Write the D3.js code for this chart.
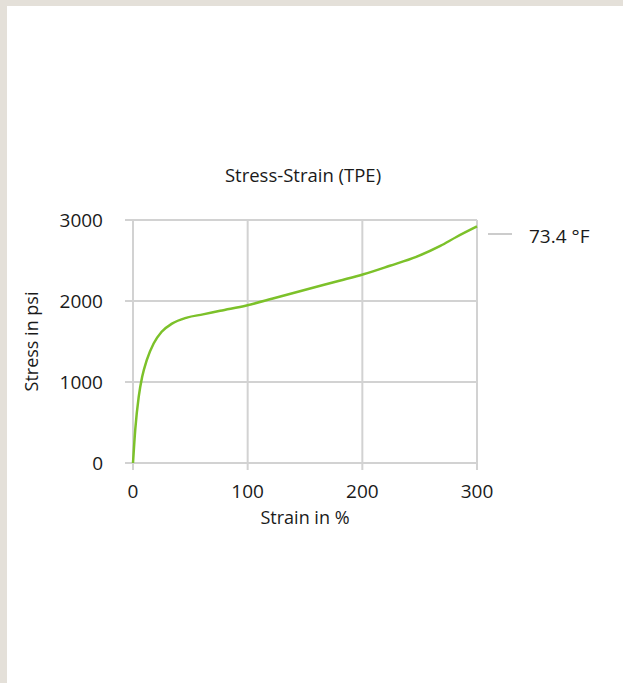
<!DOCTYPE html>
<html>
<head>
<meta charset="utf-8">
<script src="https://cdn.jsdelivr.net/npm/d3@7"></script>
<style>
  html, body { margin: 0; padding: 0; background: #e4e0d9; }
  svg { display: block; }
  text { font-family: "Open Sans", "Noto Sans", sans-serif; fill: #1a1a1a; }
</style>
</head>
<body>
<svg id="chart" width="623" height="683"></svg>
<script>
// strain in %, stress in psi
const strain = [0, 2, 5, 8, 12, 18, 25, 34, 47, 61, 76, 99, 122, 152, 180, 201, 224, 247, 268, 282, 300];
const stress = [0, 420, 820, 1065, 1270, 1475, 1620, 1720, 1795, 1835, 1880, 1945, 2030, 2145, 2250, 2330, 2435, 2545, 2680, 2790, 2920];

const xTicks = [0, 100, 200, 300];
const yTicks = [0, 1000, 2000, 3000];
const seriesName = "73.4 °F";
const title = "Stress-Strain (TPE)";

const svg = d3.select("#chart");

// white card, beige strip top and left
svg.append("rect")
    .attr("x", 7).attr("y", 6)
    .attr("width", 616).attr("height", 677)
    .attr("fill", "#ffffff");

const plot = { left: 133, right: 477, top: 220, bottom: 463 };

const x = d3.scaleLinear().domain([0, 300]).range([plot.left, plot.right]);
const y = d3.scaleLinear().domain([0, 3000]).range([plot.bottom, plot.top]);

const gridColor = "#d2d2d2";

// horizontal grid (with tick stub on the left)
svg.append("g")
    .selectAll("line")
    .data(yTicks)
    .join("line")
    .attr("x1", plot.left - 8).attr("x2", plot.right)
    .attr("y1", d => y(d)).attr("y2", d => y(d))
    .attr("stroke", gridColor)
    .attr("stroke-width", 2);

// vertical grid (with tick stub below)
svg.append("g")
    .selectAll("line")
    .data(xTicks)
    .join("line")
    .attr("x1", d => x(d)).attr("x2", d => x(d))
    .attr("y1", plot.top).attr("y2", plot.bottom + 7)
    .attr("stroke", gridColor)
    .attr("stroke-width", 2);

// tick labels
svg.append("g")
    .selectAll("text")
    .data(yTicks)
    .join("text")
    .attr("x", 103)
    .attr("y", d => y(d) + 7)
    .attr("text-anchor", "end")
    .attr("font-size", 19)
    .text(d => d);

svg.append("g")
    .selectAll("text")
    .data(xTicks)
    .join("text")
    .attr("x", d => x(d))
    .attr("y", 498)
    .attr("text-anchor", "middle")
    .attr("font-size", 19)
    .text(d => d);

// axis titles
svg.append("text")
    .attr("x", 305)
    .attr("y", 524)
    .attr("text-anchor", "middle")
    .attr("font-size", 18)
    .text("Strain in %");

svg.append("text")
    .attr("transform", `translate(38, ${(plot.top + plot.bottom) / 2}) rotate(-90)`)
    .attr("text-anchor", "middle")
    .attr("font-size", 18)
    .text("Stress in psi");

// chart title
svg.append("text")
    .attr("x", 303)
    .attr("y", 182)
    .attr("text-anchor", "middle")
    .attr("font-size", 18.5)
    .text(title);

// series line
const line = d3.line()
    .x((d, i) => x(strain[i]))
    .y(d => y(d))
    .curve(d3.curveMonotoneX);

svg.append("path")
    .datum(stress)
    .attr("d", line)
    .attr("fill", "none")
    .attr("stroke", "#7cc12a")
    .attr("stroke-width", 2.5)
    .attr("stroke-linejoin", "round");

// legend
svg.append("line")
    .attr("x1", 488).attr("x2", 512)
    .attr("y1", 234).attr("y2", 234)
    .attr("stroke", "#cccccc")
    .attr("stroke-width", 2);

svg.append("text")
    .attr("x", 529)
    .attr("y", 243)
    .attr("font-size", 19)
    .text(seriesName);
</script>
</body>
</html>
